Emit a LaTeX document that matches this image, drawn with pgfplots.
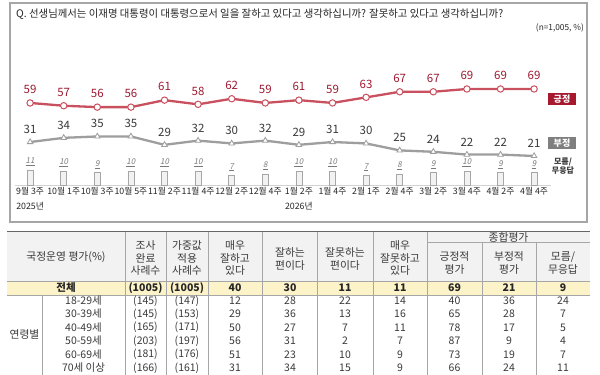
\documentclass[border=0pt]{standalone}
\usepackage{fontspec}
\setmainfont{Noto Sans CJK KR}
\newfontfamily\dkfont[FakeSlant=0.2]{Noto Sans CJK KR}
\usepackage{pgfplots}
\usepackage{pgfplotstable}
\pgfplotsset{compat=1.18}
\definecolor{posline}{HTML}{C9505F}
\definecolor{poslab}{HTML}{9E1B32}
\definecolor{posbox}{HTML}{A6192E}
\definecolor{negline}{HTML}{9E9E9E}
\definecolor{neglab}{HTML}{3A3A3A}
\definecolor{negbox}{HTML}{7F7F7F}
\definecolor{dklab}{HTML}{7A7A7A}
\definecolor{framecol}{HTML}{A6A6A6}
\definecolor{hdrbg}{HTML}{F2F2F2}
\definecolor{yel}{HTML}{FDF3C9}
\definecolor{txt}{HTML}{262626}
\definecolor{gridc}{HTML}{A6A6A6}
\pgfplotstableread{
x pos neg dk
0 59 31 11
1 57 34 10
2 56 35 9
3 56 35 10
4 61 29 10
5 58 32 10
6 62 30 7
7 59 32 8
8 61 29 10
9 59 31 10
10 63 30 7
11 67 25 8
12 67 24 9
13 69 22 10
14 69 22 9
15 69 21 9
}\data
\begin{document}
\begin{tikzpicture}[x=1pt,y=1pt]
\useasboundingbox (0,0) rectangle (600,375);
\fill[white] (0,0) rectangle (600,375);
% chart frame
\draw[framecol, line width=1.2pt] (10,372) rectangle (587,153);
\node[anchor=west, font=\fontsize{10.4}{12}\selectfont, text=txt, inner sep=0pt] at (16,361) {Q. 선생님께서는 이재명 대통령이 대통령으로서 일을 잘하고 있다고 생각하십니까? 잘못하고 있다고 생각하십니까?};
\node[anchor=east, font=\fontsize{8.3}{10}\selectfont, text=txt, inner sep=0pt] at (584,347) {(n=1,005, \%)};
\begin{axis}[at={(15pt,189.7pt)}, anchor=south west, scale only axis,
  width=535.9pt, height=104.7pt, xmin=-0.45, xmax=15.5, ymin=0, ymax=75,
  clip=false, axis y line=none, axis x line*=bottom,
  x axis line style={draw=gray!35, line width=0.8pt},
  xtick={0,...,15}, major tick length=0pt, ytick=\empty,
  xticklabels={{9월 3주\\2025년},10월 1주,10월 3주,10월 5주,11월 2주,11월 4주,12월 2주,12월 4주,{1월 2주\\2026년},1월 4주,2월 1주,2월 4주,3월 2주,3월 4주,4월 2주,4월 4주},
  xticklabel style={font=\fontsize{8.8}{14.5}\selectfont, text=txt, align=center, inner sep=2pt},
  /pgf/number format/assume math mode=true]
\addplot[ybar, bar width=6pt, fill=hdrbg, draw=gray!70, line width=0.6pt,
  nodes near coords={\underline{\pgfmathprintnumber{\pgfplotspointmeta}}},
  nodes near coords style={font=\dkfont\fontsize{8}{9}\selectfont, text=dklab, anchor=south, inner sep=0pt, yshift=4pt}]
  table[x=x,y=dk]{\data};
\addplot[posline, line width=2.3pt, mark=*, mark size=3.2pt,
  mark options={fill=white, draw=posline, line width=1pt},
  nodes near coords,
  nodes near coords style={font=\fontsize{11.5}{13}\selectfont, text=poslab, anchor=south, inner sep=0pt, yshift=8.5pt}]
  table[x=x,y=pos]{\data};
\addplot[negline, line width=2.3pt, mark=triangle*, mark size=3.2pt,
  mark options={fill=white, draw=negline, line width=0.8pt},
  nodes near coords,
  nodes near coords style={font=\fontsize{11.5}{13}\selectfont, text=neglab, anchor=south, inner sep=0pt, yshift=8pt}]
  table[x=x,y=neg]{\data};
\end{axis}
% legend boxes
\node[fill=posbox, text=white, font=\bfseries\fontsize{9}{10}\selectfont, minimum width=28pt, minimum height=12.5pt, inner sep=0pt] at (562,276) {긍정};
\node[fill=negbox, text=white, font=\bfseries\fontsize{9}{10}\selectfont, minimum width=28pt, minimum height=12.5pt, inner sep=0pt] at (562,232) {부정};
\node[text=neglab, font=\bfseries\fontsize{8}{9}\selectfont, align=center, inner sep=0pt] at (563,209) {모름/\\무응답};
% table
\fill[hdrbg] (7,143) rectangle (590,94);
\fill[yel] (7,94) rectangle (590,80);
\draw[gray!80!black, line width=1pt] (7,143) -- (590,143);
\draw[gridc, line width=0.6pt] (7,94) -- (590,94);
\draw[gridc, line width=0.6pt] (7,80) -- (590,80);
\draw[gridc, line width=0.6pt] (427,133) -- (590,133);
\foreach \xx in {125,166,208,262,317,373,427}{\draw[gridc, line width=0.6pt] (\xx,143) -- (\xx,0);}
\foreach \xx in {482,536}{\draw[gridc, line width=0.6pt] (\xx,133) -- (\xx,0);}
\draw[gridc, line width=0.6pt] (42,80) -- (42,0);
\begin{scope}[every node/.style={text=neglab, font=\fontsize{10.8}{12.2}\selectfont, align=center, inner sep=0pt}]
\node at (66,118) {국정운영 평가(\%)};
\node at (145.5,117) {조사\\완료\\사례수};
\node at (187,117) {가중값\\적용\\사례수};
\node at (235,117) {매우\\잘하고\\있다};
\node at (290,116) {잘하는\\편이다};
\node at (345,116) {잘못하는\\편이다};
\node at (400,117) {매우\\잘못하고\\있다};
\node at (508.5,138) {종합평가};
\node at (454.5,112) {긍정적\\평가};
\node at (509,112) {부정적\\평가};
\node at (563,112) {모름/\\무응답};
\node at (24.5,41) {연령별};
\end{scope}
\begin{scope}[every node/.style={text=txt, font=\bfseries\fontsize{10.5}{12}\selectfont, inner sep=0pt}]
\node at (66,87) {전체};
\node at (145.5,87) {(1005)};
\node at (187,87) {(1005)};
\foreach \cx/\v in {235/40,290/30,345/11,400/11,454.5/69,509/21,563/9}{\node at (\cx,87) {\v};}
\end{scope}
\begin{scope}[every node/.style={text=neglab, font=\fontsize{10.5}{12}\selectfont, inner sep=0pt}]
\foreach \yy/\lab/\a/\b/\c/\d/\e/\f/\g/\h/\i in {
 74/18-29세/145/147/12/28/22/14/40/36/24,
 61/30-39세/145/153/29/36/13/16/65/28/7,
 47.5/40-49세/165/171/50/27/7/11/78/17/5,
 34/50-59세/203/197/56/31/2/7/87/9/4,
 20.5/60-69세/181/176/51/23/10/9/73/19/7,
 7/70세 이상/166/161/31/34/15/9/66/24/11}{
 \node at (83.5,\yy) {\lab};
 \node at (145.5,\yy) {(\a)};
 \node at (187,\yy) {(\b)};
 \node at (235,\yy) {\c};
 \node at (290,\yy) {\d};
 \node at (345,\yy) {\e};
 \node at (400,\yy) {\f};
 \node at (454.5,\yy) {\g};
 \node at (509,\yy) {\h};
 \node at (563,\yy) {\i};
}
\end{scope}
\end{tikzpicture}
\end{document}
